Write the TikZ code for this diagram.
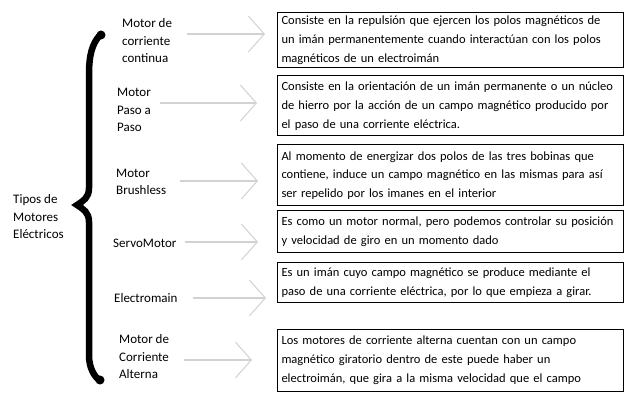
\documentclass[tikz,border=0pt]{standalone}
\usepackage{fontspec}
\setmainfont{Carlito}
\usetikzlibrary{arrows.meta}
\definecolor{arrgray}{RGB}{210,210,210}
\begin{document}
\begin{tikzpicture}[x=1pt,y=-1pt,
  desc/.style={draw=black, line width=1pt, rectangle, anchor=west, text width=338pt, inner xsep=4pt, inner ysep=0pt, align=left, font=\fontsize{12.5}{18.8}\selectfont},
  lbl/.style={anchor=west, align=left, inner sep=0pt, font=\fontsize{13}{17.5}\selectfont},
  arr/.style={draw=arrgray, line width=1.5pt, -{Straight Barb[length=16pt,width=36pt,line width=1pt]}},
  bracestyle/.style={line width=6.5pt, line cap=round, draw=black},
]
\useasboundingbox[fill=white] (0,0) rectangle (633,401);

% description boxes
\node[desc, minimum height=55pt] (d1) at (277,40.5) {Consiste en la repulsión que ejercen los polos magnéticos de\\un imán permanentemente cuando interactúan con los polos\\magnéticos de un electroimán};
\node[desc, minimum height=60pt] (d2) at (277,106) {Consiste en la orientación de un imán permanente o un núcleo\\de hierro por la acción de un campo magnético producido por\\el paso de una corriente eléctrica.};
\node[desc, minimum height=61pt] (d3) at (277,175.5) {Al momento de energizar dos polos de las tres bobinas que\\contiene, induce un campo magnético en las mismas para así\\ser repelido por los imanes en el interior};
\node[desc, minimum height=42pt] (d4) at (277,232) {Es como un motor normal, pero podemos controlar su posición\\y velocidad de giro en un momento dado};
\node[desc, minimum height=40pt] (d5) at (277,283) {Es un imán cuyo campo magnético se produce mediante el\\paso de una corriente eléctrica, por lo que empieza a girar.};
\node[desc, minimum height=61pt] (d6) at (277,360.5) {Los motores de corriente alterna cuentan con un campo\\magnético giratorio dentro de este puede haber un\\electroimán, que gira a la misma velocidad que el campo};

% labels
\node[lbl] (root) at (13,217) {Tipos de\\Motores\\Eléctricos};
\node[lbl] (l1) at (122,41) {Motor de\\corriente\\continua};
\node[lbl] (l2) at (117,110) {Motor\\Paso a\\Paso};
\node[lbl] (l3) at (116,182) {Motor\\Brushless};
\node[lbl] (l4) at (113,243) {ServoMotor};
\node[lbl] (l5) at (114,298) {Electromain};
\node[lbl] (l6) at (119,357) {Motor de\\Corriente\\Alterna};

% brace
\draw[bracestyle] (100,35) .. controls (92,44) and (89,55) .. (89,75) -- (89,188)
  .. controls (89,198) and (83,201) .. (77,205)
  .. controls (83,209) and (89,212) .. (89,222) -- (89,355)
  .. controls (89,368) and (94,376) .. (100,381);
\fill (101,35) circle (4.5pt);
\fill (100,380) circle (4.5pt);

% arrows
\coordinate (s1) at (187,34);  \coordinate (e1) at (265,34);
\coordinate (s2) at (160,103); \coordinate (e2) at (257,103);
\coordinate (s3) at (180,181); \coordinate (e3) at (258,181);
\coordinate (s4) at (185,242); \coordinate (e4) at (258,242);
\coordinate (s5) at (193,298); \coordinate (e5) at (266,298);
\coordinate (s6) at (184,360); \coordinate (e6) at (252,360);
\foreach \i in {1,...,6} {\draw[arr] (s\i) -- (e\i);}
\end{tikzpicture}
\end{document}
